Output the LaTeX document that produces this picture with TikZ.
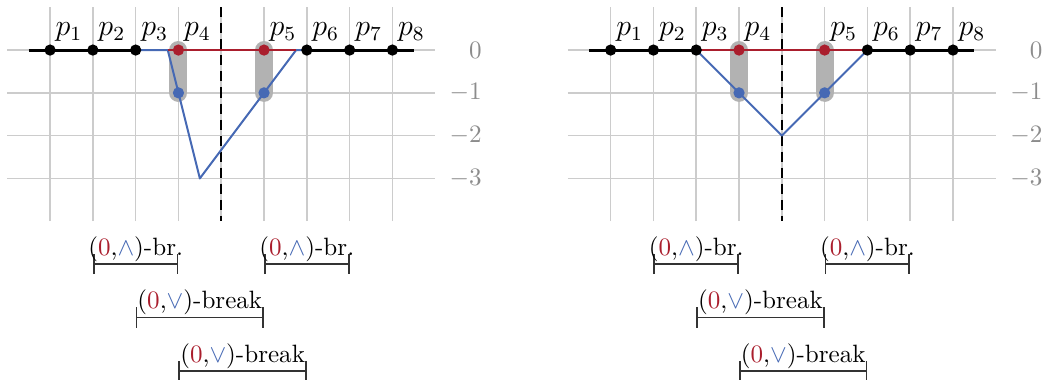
\documentclass[tikz,border=0pt]{standalone}
\usepackage{amsmath}
\usepackage{amssymb}
\usepackage{xcolor}
\usepackage{tikz}
\usetikzlibrary{arrows.meta, positioning}

\definecolor{brred}{RGB}{170,30,45}
\definecolor{brblue}{RGB}{70,105,180}
\newcommand{\brwedge}{(\textcolor{brred}{0},\textcolor{brblue}{$\wedge$})}
\newcommand{\brvee}{(\textcolor{brred}{0},\textcolor{brblue}{$\vee$})}

\begin{document}
\begin{tikzpicture}[x=0.6cm, y=0.6cm, >=Stealth,
  gridline/.style={black!20, line width=0.6pt},
  ticklabel/.style={black!45, anchor=east, inner sep=0pt},
  plabel/.style={anchor=base west, inner sep=0pt, font=\large},
  axisline/.style={black, line width=1.2pt},
  bluepath/.style={brblue, line width=0.8pt, line join=round},
  redpath/.style={brred, line width=1pt},
  capsule/.style={black!30, line width=7.2pt, line cap=round},
  divider/.style={black, line width=1pt, dash pattern=on 4pt off 2.4pt},
  dot/.style={circle, fill=#1, inner sep=0pt, minimum size=4.5pt},
  bracket/.style={black!80, line width=0.7pt, {Bar[width=8pt]}-{Bar[width=8pt]}},
  brtext/.style={above, inner sep=0.6pt, text=black}]

\useasboundingbox (-0.17,1.17) rectangle (24.39,-7.71);

% =============== LEFT ===============
\begin{scope}
\foreach \x in {1,...,9}
  \draw[gridline] (\x,-4) -- (\x,1);
\foreach \y [count=\i] in {0,-1,-2,-3}{
  \draw[gridline] (0,\y) -- (10,\y);
  \node[ticklabel] (ylA\i) at (11.1,\y) {$\y$};
}
\draw[capsule] (4,0) -- (4,-1);
\draw[capsule] (6,0) -- (6,-1);
\draw[divider] (5,1) -- (5,-4);
\draw[axisline] (0.5,0) -- (3,0);
\draw[axisline] (7,0) -- (9.5,0);
\draw[bluepath] (3,0) -- (3.75,0) -- (4,-1) -- (4.5,-3) -- (6,-1) -- (6.75,0) -- (7,0);
\draw[redpath] (3.75,0) -- (6.75,0);
% points
\foreach \x [count=\i] in {1,2,3,4,6,7,8,9}
  \node[plabel] (pA\i) at (\x+0.12,0.33) {$p_{\i}$};
\foreach \x [count=\i] in {1,2,3,7,8,9}
  \node[dot=black] (dA\i) at (\x,0) {};
\node[dot=brred] (rA1) at (4,0) {};
\node[dot=brred] (rA2) at (6,0) {};
\node[dot=brblue] (bA1) at (4,-1) {};
\node[dot=brblue] (bA2) at (6,-1) {};
% breaks
\draw[bracket] (2,-5) -- node[brtext] (kA1) {\brwedge-br.} (4,-5);
\draw[bracket] (6,-5) -- node[brtext] (kA2) {\brwedge-br.} (8,-5);
\draw[bracket] (3,-6.25) -- node[brtext] (kA3) {\brvee-break} (6,-6.25);
\draw[bracket] (4,-7.5) -- node[brtext] (kA4) {\brvee-break} (7,-7.5);
\end{scope}

% =============== RIGHT ===============
\begin{scope}[shift={(13.1,0)}]
\foreach \x in {1,...,9}
  \draw[gridline] (\x,-4) -- (\x,1);
\foreach \y [count=\i] in {0,-1,-2,-3}{
  \draw[gridline] (0,\y) -- (10,\y);
  \node[ticklabel] (ylB\i) at (11.1,\y) {$\y$};
}
\draw[capsule] (4,0) -- (4,-1);
\draw[capsule] (6,0) -- (6,-1);
\draw[divider] (5,1) -- (5,-4);
\draw[axisline] (0.5,0) -- (3,0);
\draw[axisline] (7,0) -- (9.5,0);
\draw[bluepath] (3,0) -- (4,-1) -- (5,-2) -- (6,-1) -- (7,0);
\draw[redpath] (3,0) -- (7,0);
% points
\foreach \x [count=\i] in {1,2,3,4,6,7,8,9}
  \node[plabel] (pB\i) at (\x+0.12,0.33) {$p_{\i}$};
\foreach \x [count=\i] in {1,2,3,7,8,9}
  \node[dot=black] (dB\i) at (\x,0) {};
\node[dot=brred] (rB1) at (4,0) {};
\node[dot=brred] (rB2) at (6,0) {};
\node[dot=brblue] (bB1) at (4,-1) {};
\node[dot=brblue] (bB2) at (6,-1) {};
% breaks
\draw[bracket] (2,-5) -- node[brtext] (kB1) {\brwedge-br.} (4,-5);
\draw[bracket] (6,-5) -- node[brtext] (kB2) {\brwedge-br.} (8,-5);
\draw[bracket] (3,-6.25) -- node[brtext] (kB3) {\brvee-break} (6,-6.25);
\draw[bracket] (4,-7.5) -- node[brtext] (kB4) {\brvee-break} (7,-7.5);
\end{scope}

\end{tikzpicture}
\end{document}
